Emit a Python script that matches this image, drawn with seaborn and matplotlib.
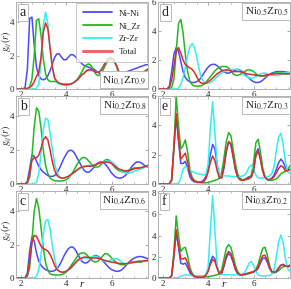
import pandas as pd
import matplotlib.pyplot as plt
import seaborn as sns
from matplotlib.lines import Line2D

# Radial grid (Angstrom)
r = [1.8, 1.9, 2.0, 2.1, 2.2, 2.3, 2.4, 2.5, 2.6, 2.7,
     2.8, 2.9, 3.0, 3.1, 3.2, 3.3, 3.4, 3.5, 3.6, 3.7,
     3.8, 3.9, 4.0, 4.1, 4.2, 4.3, 4.4, 4.5, 4.6, 4.7,
     4.8, 4.9, 5.0, 5.1, 5.2, 5.3, 5.4, 5.5, 5.6, 5.7,
     5.8, 5.9, 6.0, 6.1, 6.2, 6.3, 6.4, 6.5, 6.6, 6.7,
     6.8, 6.9, 7.0, 7.1, 7.2, 7.3, 7.4, 7.5, 7.6]

# a: Ni0.1Zr0.9
nini_a = [0, 0, 0, 0, 0.1, 1.2, 4.2, 4.3, 2.6, 1.3,
          0.8, 0.6, 0.55, 0.6, 0.8, 1.1, 1.5, 1.9, 2.1, 2.1,
          1.9, 1.75, 1.75, 1.9, 2.05, 2.05, 1.95, 1.8, 1.65, 1.5,
          1.4, 1.35, 1.3, 1.25, 1.2, 1.1, 1.0, 0.9, 0.85, 0.8,
          0.75, 0.75, 0.75, 0.75, 0.8, 0.85, 0.9, 0.95, 1.0, 1.05,
          1.1, 1.15, 1.2, 1.25, 1.3, 1.35, 1.4, 1.45, 1.45]
nizr_a = [0, 0, 0, 0, 0, 0, 0.1, 0.6, 2.0, 4.1,
          4.2, 3.2, 1.8, 0.9, 0.55, 0.45, 0.45, 0.45, 0.4, 0.35,
          0.3, 0.3, 0.3, 0.3, 0.3, 0.35, 0.45, 0.6, 0.8, 1.05,
          1.3, 1.45, 1.5, 1.4, 1.15, 0.9, 0.8, 0.85, 1.05, 1.35,
          1.6, 1.75, 1.75, 1.65, 1.4, 1.0, 0.65, 0.4, 0.3, 0.3,
          0.35, 0.45, 0.6, 0.75, 0.85, 0.95, 1.0, 1.0, 1.0]
zrzr_a = [0, 0, 0, 0, 0, 0, 0, 0, 0, 0.05,
          0.3, 1.6, 3.8, 4.6, 3.9, 2.4, 1.2, 0.6, 0.4, 0.3,
          0.25, 0.25, 0.25, 0.28, 0.3, 0.35, 0.45, 0.55, 0.7, 0.85,
          0.95, 1.05, 1.1, 1.1, 1.05, 1.0, 1.0, 1.1, 1.3, 1.55,
          1.8, 1.9, 1.9, 1.75, 1.45, 1.1, 0.8, 0.6, 0.5, 0.5,
          0.55, 0.65, 0.75, 0.85, 0.95, 1.0, 1.05, 1.1, 1.1]
total_a = [0, 0, 0, 0, 0, 0.05, 0.1, 0.2, 0.45, 0.75,
           1.0, 1.9, 3.4, 3.95, 3.6, 2.4, 1.3, 0.65, 0.45, 0.35,
           0.3, 0.25, 0.25, 0.25, 0.3, 0.35, 0.45, 0.55, 0.7, 0.85,
           0.95, 1.1, 1.15, 1.15, 1.1, 1.0, 1.0, 1.05, 1.25, 1.5,
           1.75, 1.85, 1.85, 1.75, 1.45, 1.1, 0.75, 0.55, 0.45, 0.45,
           0.5, 0.55, 0.6, 0.7, 0.8, 0.9, 1.0, 1.1, 1.2]

# b: Ni0.2Zr0.8
nini_b = [0, 0, 0, 0, 0, 0.15, 0.9, 1.7, 1.65, 1.35,
          1.05, 0.85, 0.7, 0.6, 0.5, 0.45, 0.45, 0.5, 0.65, 0.9,
          1.2, 1.5, 1.75, 1.95, 2.0, 1.95, 1.75, 1.5, 1.25, 1.0,
          0.8, 0.7, 0.7, 0.8, 0.95, 1.1, 1.25, 1.3, 1.3, 1.2,
          1.05, 0.85, 0.65, 0.5, 0.4, 0.35, 0.35, 0.4, 0.5, 0.65,
          0.85, 1.05, 1.2, 1.3, 1.3, 1.25, 1.15, 1.05, 1.0]
nizr_b = [0, 0, 0, 0, 0, 0.05, 0.4, 1.6, 3.4, 4.5,
          4.3, 3.3, 2.0, 1.1, 0.6, 0.35, 0.25, 0.2, 0.18, 0.18,
          0.18, 0.2, 0.25, 0.35, 0.5, 0.7, 0.95, 1.2, 1.4, 1.55,
          1.57, 1.5, 1.35, 1.2, 1.05, 1.0, 1.0, 1.1, 1.25, 1.4,
          1.45, 1.4, 1.25, 1.05, 0.9, 0.8, 0.75, 0.7, 0.72, 0.78,
          0.85, 0.9, 0.95, 0.95, 0.95, 0.95, 1.0, 1.05, 1.1]
zrzr_b = [0, 0, 0, 0, 0, 0, 0, 0, 0, 0.1,
          0.6, 1.8, 3.2, 3.9, 3.8, 3.0, 2.0, 1.2, 0.7, 0.45,
          0.35, 0.35, 0.4, 0.45, 0.5, 0.6, 0.7, 0.8, 0.9, 0.95,
          1.0, 1.05, 1.1, 1.1, 1.1, 1.15, 1.2, 1.25, 1.3, 1.35,
          1.35, 1.35, 1.3, 1.2, 1.05, 0.9, 0.8, 0.7, 0.65, 0.62,
          0.65, 0.7, 0.75, 0.8, 0.85, 0.9, 0.95, 1.0, 1.05]
total_b = [0, 0, 0, 0, 0, 0.1, 0.6, 1.4, 1.55, 1.55,
           1.7, 2.1, 2.6, 2.8, 2.6, 2.0, 1.3, 0.8, 0.5, 0.4,
           0.35, 0.35, 0.4, 0.45, 0.55, 0.65, 0.75, 0.85, 0.95, 1.0,
           1.05, 1.05, 1.05, 1.05, 1.1, 1.15, 1.2, 1.25, 1.28, 1.3,
           1.3, 1.28, 1.2, 1.1, 1.0, 0.9, 0.85, 0.8, 0.78, 0.78,
           0.8, 0.85, 0.9, 0.92, 0.95, 0.97, 1.0, 1.05, 1.1]

# c: Ni0.4Zr0.6
nini_c = [0, 0, 0, 0, 0, 0.3, 1.6, 2.45, 2.2, 1.5,
          1.0, 0.75, 0.6, 0.5, 0.45, 0.4, 0.4, 0.45, 0.55, 0.75,
          1.0, 1.3, 1.55, 1.75, 1.85, 1.85, 1.7, 1.45, 1.2, 1.0,
          0.9, 0.9, 1.0, 1.15, 1.3, 1.35, 1.3, 1.2, 1.05, 0.9,
          0.75, 0.6, 0.5, 0.45, 0.4, 0.4, 0.45, 0.55, 0.7, 0.85,
          1.0, 1.1, 1.2, 1.25, 1.28, 1.28, 1.25, 1.2, 1.15]
nizr_c = [0, 0, 0, 0, 0, 0.1, 0.6, 2.2, 4.0, 4.75,
          4.2, 3.0, 1.8, 0.9, 0.45, 0.25, 0.2, 0.18, 0.18, 0.18,
          0.2, 0.25, 0.35, 0.5, 0.7, 0.9, 1.1, 1.3, 1.45, 1.5,
          1.5, 1.4, 1.25, 1.1, 1.0, 0.95, 1.0, 1.15, 1.3, 1.45,
          1.45, 1.35, 1.2, 1.05, 0.95, 0.85, 0.8, 0.8, 0.8, 0.85,
          0.9, 0.95, 0.95, 0.95, 0.95, 0.95, 1.0, 1.0, 1.05]
zrzr_c = [0, 0, 0, 0, 0, 0, 0, 0, 0, 0.1,
          0.5, 1.4, 2.6, 3.4, 3.5, 2.9, 1.9, 1.1, 0.6, 0.4,
          0.35, 0.35, 0.4, 0.45, 0.55, 0.7, 0.85, 1.0, 1.1, 1.15,
          1.2, 1.2, 1.2, 1.25, 1.3, 1.3, 1.25, 1.15, 1.05, 1.0,
          1.0, 1.05, 1.1, 1.15, 1.15, 1.1, 1.0, 0.9, 0.85, 0.85,
          0.88, 0.92, 0.95, 1.0, 1.0, 1.0, 1.0, 1.0, 1.0]
total_c = [0, 0, 0, 0, 0, 0.2, 1.0, 2.1, 2.55, 2.5,
           2.2, 1.9, 1.75, 1.7, 1.6, 1.4, 1.1, 0.75, 0.5, 0.4,
           0.35, 0.35, 0.4, 0.5, 0.6, 0.75, 0.9, 1.05, 1.15, 1.2,
           1.25, 1.25, 1.22, 1.2, 1.2, 1.2, 1.18, 1.15, 1.1, 1.05,
           1.0, 0.98, 0.95, 0.93, 0.9, 0.88, 0.86, 0.85, 0.85, 0.87,
           0.9, 0.92, 0.95, 0.97, 1.0, 1.0, 1.02, 1.04, 1.05]

# d: Ni0.5Zr0.5
nini_d = [0, 0, 0, 0, 0, 0.2, 1.2, 2.4, 2.85, 2.6,
          1.9, 1.2, 0.8, 0.6, 0.5, 0.45, 0.45, 0.5, 0.6, 0.8,
          1.05, 1.3, 1.5, 1.65, 1.7, 1.7, 1.6, 1.45, 1.3, 1.2,
          1.1, 1.1, 1.15, 1.2, 1.3, 1.35, 1.3, 1.2, 1.05, 0.9,
          0.75, 0.6, 0.5, 0.45, 0.45, 0.5, 0.6, 0.75, 0.9, 1.0,
          1.1, 1.15, 1.2, 1.2, 1.2, 1.2, 1.18, 1.15, 1.12]
nizr_d = [0, 0, 0, 0, 0, 0, 0.1, 0.7, 2.6, 4.5,
          4.8, 3.9, 2.4, 1.2, 0.55, 0.3, 0.2, 0.2, 0.2, 0.22,
          0.3, 0.45, 0.65, 0.85, 1.05, 1.25, 1.4, 1.5, 1.55, 1.55,
          1.55, 1.45, 1.25, 1.05, 0.95, 0.95, 1.0, 1.1, 1.2, 1.3,
          1.32, 1.3, 1.2, 1.05, 0.95, 0.9, 0.88, 0.9, 0.95, 1.0,
          1.05, 1.1, 1.1, 1.1, 1.1, 1.08, 1.05, 1.05, 1.05]
zrzr_d = [0, 0, 0, 0, 0, 0, 0, 0, 0, 0.05,
          0.3, 0.8, 1.5, 2.3, 2.9, 3.15, 2.9, 2.2, 1.4, 0.8,
          0.5, 0.4, 0.4, 0.45, 0.55, 0.7, 0.85, 1.0, 1.1, 1.2,
          1.25, 1.3, 1.32, 1.35, 1.37, 1.35, 1.25, 1.1, 0.95, 0.85,
          0.78, 0.75, 0.78, 0.85, 0.95, 1.05, 1.1, 1.1, 1.05, 1.0,
          0.95, 0.93, 0.93, 0.95, 1.0, 1.05, 1.1, 1.13, 1.15]
total_d = [0, 0, 0, 0, 0, 0.1, 0.6, 1.6, 2.6, 2.85,
           2.5, 2.0, 1.7, 1.55, 1.45, 1.35, 1.15, 0.85, 0.55, 0.4,
           0.38, 0.4, 0.5, 0.6, 0.75, 0.9, 1.05, 1.15, 1.25, 1.3,
           1.32, 1.3, 1.25, 1.2, 1.2, 1.2, 1.2, 1.15, 1.1, 1.05,
           1.02, 1.0, 0.98, 0.95, 0.93, 0.92, 0.92, 0.95, 0.98, 1.0,
           1.02, 1.03, 1.05, 1.05, 1.05, 1.05, 1.05, 1.05, 1.05]

# e: Ni0.7Zr0.3
nini_e = [0, 0, 0, 0, 0, 0, 0.3, 2.5, 4.6, 3.0,
          1.4, 1.4, 1.55, 1.1, 0.5, 0.25, 0.15, 0.12, 0.12, 0.15,
          0.25, 0.5, 1.1, 2.0, 2.7, 2.4, 1.3, 0.5, 0.4, 1.1,
          2.2, 2.85, 2.7, 1.9, 1.0, 0.5, 0.3, 0.25, 0.3, 0.4,
          0.5, 0.55, 1.0, 2.1, 2.4, 1.7, 0.9, 0.45, 0.3, 0.3,
          0.4, 0.6, 1.0, 1.45, 1.7, 1.5, 1.1, 0.95, 1.0]
nizr_e = [0, 0, 0, 0, 0, 0, 0.2, 2.5, 6.0, 4.0,
          2.4, 2.6, 3.0, 2.2, 1.0, 0.45, 0.25, 0.15, 0.1, 0.08,
          0.08, 0.08, 0.1, 0.15, 0.2, 0.25, 0.3, 0.4, 0.8, 1.8,
          2.9, 3.5, 3.3, 2.4, 1.4, 0.7, 0.4, 0.3, 0.3, 0.3,
          0.35, 0.6, 1.5, 2.8, 3.05, 2.2, 1.1, 0.5, 0.3, 0.25,
          0.25, 0.3, 0.35, 0.5, 0.7, 0.8, 0.85, 1.0, 1.25]
zrzr_e = [0, 0, 0, 0, 0, 0, 0, 0, 0, 0.05,
          0.4, 1.0, 1.2, 1.1, 0.95, 0.85, 0.78, 0.72, 0.68, 0.65,
          0.62, 0.65, 1.3, 3.8, 5.6, 3.5, 1.3, 0.65, 0.55, 0.55,
          0.55, 0.55, 0.52, 0.5, 0.5, 0.5, 0.5, 0.55, 0.6, 0.8,
          1.15, 1.3, 1.0, 0.6, 0.42, 0.4, 0.42, 0.45, 0.5, 0.55,
          0.7, 1.2, 2.3, 3.2, 3.45, 2.7, 1.5, 0.85, 0.7]
total_e = [0, 0, 0, 0, 0, 0, 0.3, 2.6, 4.8, 3.1,
           1.7, 1.9, 2.1, 1.5, 0.7, 0.35, 0.2, 0.15, 0.12, 0.12,
           0.15, 0.35, 0.8, 1.5, 1.9, 1.6, 0.9, 0.4, 0.45, 1.2,
           2.3, 2.9, 2.75, 1.9, 1.0, 0.5, 0.3, 0.25, 0.28, 0.35,
           0.42, 0.45, 0.9, 1.9, 2.25, 1.7, 0.9, 0.45, 0.3, 0.3,
           0.35, 0.5, 0.75, 1.05, 1.25, 1.15, 0.9, 0.9, 1.0]

# f: Ni0.8Zr0.2
nini_f = [0, 0, 0, 0, 0, 0, 0.2, 2.0, 4.35, 2.9,
          1.4, 1.3, 1.4, 1.0, 0.5, 0.25, 0.12, 0.08, 0.06, 0.06,
          0.1, 0.25, 0.7, 1.5, 2.05, 1.8, 1.0, 0.4, 0.45, 1.1,
          1.9, 2.3, 2.1, 1.5, 0.8, 0.4, 0.3, 0.3, 0.35, 0.4,
          0.45, 0.5, 0.55, 0.65, 0.9, 1.4, 1.85, 1.9, 1.5, 0.9,
          0.55, 0.5, 0.6, 0.9, 1.2, 1.3, 1.15, 1.05, 1.1]
nizr_f = [0, 0, 0, 0, 0, 0, 0.2, 2.5, 5.85, 4.0,
          2.5, 2.8, 2.9, 2.1, 1.0, 0.45, 0.2, 0.1, 0.08, 0.08,
          0.08, 0.1, 0.12, 0.15, 0.2, 0.25, 0.3, 0.4, 0.8, 1.8,
          2.8, 3.15, 2.9, 2.1, 1.2, 0.6, 0.35, 0.3, 0.3, 0.35,
          0.4, 0.5, 0.6, 0.8, 1.3, 2.1, 2.8, 2.9, 2.2, 1.2,
          0.6, 0.5, 0.55, 0.7, 0.9, 1.05, 1.1, 1.15, 1.2]
zrzr_f = [0, 0, 0, 0, 0, 0, 0, 0, 0, 0.05,
          0.15, 0.25, 0.3, 0.28, 0.25, 0.22, 0.2, 0.2, 0.2, 0.2,
          0.22, 0.3, 1.0, 4.5, 7.75, 4.5, 1.2, 0.45, 0.35, 0.32,
          0.3, 0.3, 0.3, 0.3, 0.3, 0.3, 0.32, 0.35, 0.5, 0.9,
          1.4, 1.55, 1.2, 0.6, 0.3, 0.22, 0.2, 0.2, 0.22, 0.25,
          0.35, 0.8, 2.0, 3.4, 4.05, 3.3, 1.8, 0.9, 0.6]
total_f = [0, 0, 0, 0, 0, 0, 0.25, 2.2, 4.55, 3.1,
           1.8, 1.8, 1.9, 1.4, 0.7, 0.35, 0.15, 0.1, 0.08, 0.08,
           0.1, 0.25, 0.6, 1.3, 1.75, 1.55, 0.9, 0.4, 0.5, 1.2,
           2.1, 2.5, 2.3, 1.65, 0.9, 0.45, 0.3, 0.3, 0.35, 0.42,
           0.5, 0.55, 0.6, 0.75, 1.0, 1.6, 2.1, 2.15, 1.7, 1.0,
           0.6, 0.55, 0.65, 0.95, 1.2, 1.25, 1.1, 1.1, 1.2]

pairs = ['Ni-Ni', 'Ni_Zr', 'Zr-Zr', 'Total']
colores = ['#4a4aff', '#22b822', '#33f0f0', '#e02a2a']
panels = [
    ('a', r'Ni$_{0.1}$Zr$_{0.9}$', [nini_a, nizr_a, zrzr_a, total_a], 5.2),
    ('d', r'Ni$_{0.5}$Zr$_{0.5}$', [nini_d, nizr_d, zrzr_d, total_d], 6.0),
    ('b', r'Ni$_{0.2}$Zr$_{0.8}$', [nini_b, nizr_b, zrzr_b, total_b], 5.2),
    ('e', r'Ni$_{0.7}$Zr$_{0.3}$', [nini_e, nizr_e, zrzr_e, total_e], 6.0),
    ('c', r'Ni$_{0.4}$Zr$_{0.6}$', [nini_c, nizr_c, zrzr_c, total_c], 5.2),
    ('f', r'Ni$_{0.8}$Zr$_{0.2}$', [nini_f, nizr_f, zrzr_f, total_f], 8.2),
]

sns.set_style('ticks')
plt.rcParams['font.family'] = ['Liberation Serif', 'DejaVu Serif']
plt.rcParams['mathtext.fontset'] = 'stix'

fig = plt.figure(figsize=(2.91, 2.89), dpi=100)
W, H = 291, 289
cols = [(16, 148), (158, 290)]
rows = [(2, 89), (96, 184), (191, 278)]

gris = '#b0b0b0'
for k, (letra, comp, series, ymax) in enumerate(panels):
    x0, x1 = cols[k % 2]
    y0, y1 = rows[k // 2]
    ax = fig.add_axes([x0 / W, 1 - y1 / H, (x1 - x0) / W, (y1 - y0) / H])

    df = pd.concat([pd.DataFrame({'r': r, 'g': s, 'par': p}) for s, p in zip(series, pairs)])
    sns.lineplot(data=df, x='r', y='g', hue='par', palette=colores, hue_order=pairs,
                 ax=ax, legend=False, linewidth=1.1, estimator=None, sort=False)

    ax.set_xlim(1.8, 7.6)
    ax.set_ylim(0, ymax)
    ax.set_xticks([2, 4, 6])
    ax.set_xticks([2.5, 3, 3.5, 4.5, 5, 5.5, 6.5, 7, 7.5], minor=True)
    if ymax > 7:
        ax.set_yticks([0, 2, 4, 6, 8])
    else:
        ax.set_yticks([0, 2, 4, 6] if ymax >= 6 else [0, 2, 4])
    ax.tick_params(direction='in', labelsize=6.5, length=2.5, width=0.5, color='#888888',
                   pad=1.5, top=True, right=True)
    ax.tick_params(which='minor', direction='in', length=1.5, width=0.4, color='#888888',
                   top=True, right=True)
    for sp in ax.spines.values():
        sp.set_color(gris)
        sp.set_linewidth(0.7)
    ax.set_xlabel('')
    ax.set_ylabel('')
    if k % 2 == 0:
        ax.text(-0.07, 0.55, r'$g_{ij}(r)$', transform=ax.transAxes, fontsize=7,
                rotation=90, ha='center', va='center')

    ax.text(0.03, 0.95, letra, transform=ax.transAxes, fontsize=10, va='top', ha='left',
            bbox=dict(boxstyle='square,pad=0.15', fc='white', ec=gris, lw=0.6))
    if letra == 'a':
        ax.text(0.985, 0.04, comp, transform=ax.transAxes, fontsize=8, va='bottom', ha='right',
                bbox=dict(boxstyle='square,pad=0.2', fc='white', ec=gris, lw=0.6))
        handles = [Line2D([], [], color=c, lw=1.3 if p != 'Total' else 2.2,
                          alpha=1 if p != 'Total' else 0.7) for c, p in zip(colores, pairs)]
        leg = ax.legend(handles, pairs, loc='upper right', fontsize=6.5, frameon=True,
                        fancybox=False, borderaxespad=0.1, handlelength=3.2,
                        handletextpad=0.8, labelspacing=0.5, borderpad=0.7)
        leg.get_frame().set_edgecolor(gris)
        leg.get_frame().set_linewidth(0.6)
    else:
        ax.text(0.985, 0.96, comp, transform=ax.transAxes, fontsize=8, va='top', ha='right',
                bbox=dict(boxstyle='square,pad=0.2', fc='white', ec=gris, lw=0.6))
    if letra in ('c', 'f'):
        ax.text(0.5, -0.075, 'r', transform=ax.transAxes, fontsize=8, style='italic',
                ha='center', va='center')

fig.savefig('out.png', dpi=100)
